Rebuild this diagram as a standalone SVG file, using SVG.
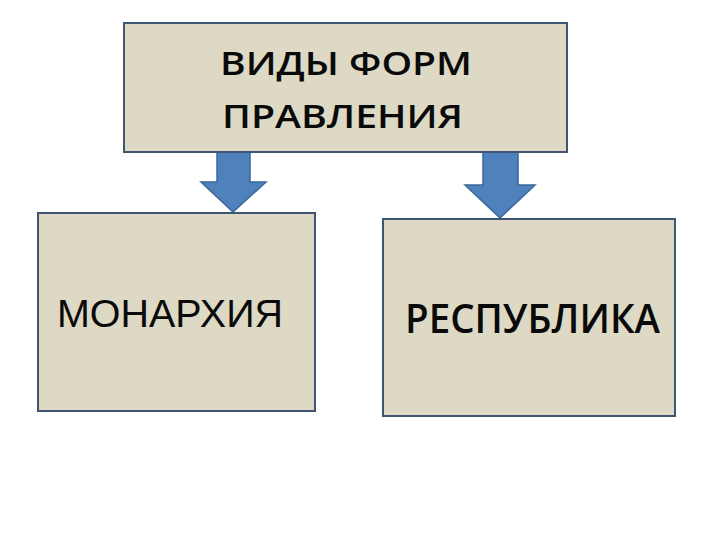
<svg xmlns="http://www.w3.org/2000/svg" width="720" height="540" viewBox="0 0 720 540">
<style>
.box{fill:#DDD9C4;stroke:#3F5574;stroke-width:2}
.arr{fill:#4F81BD;stroke:#3A6798;stroke-width:1.5}
.t{font-family:"Liberation Sans",Arial,sans-serif;fill:#0a0a0a}
.c{font-family:"Open Sans","Liberation Sans",sans-serif;font-weight:600;fill:#0a0a0a}
</style>
<rect width="720" height="540" fill="#ffffff"/>
<g id="connectors">
<polygon class="arr" points="217,152 250,152 250,182 266,182 233,212 201,182 217,182"/>
<polygon class="arr" points="483,152 518,152 518,185 535,185 500,218 465,185 483,185"/>
</g>
<g id="node-top">
<rect class="box" x="124" y="23" width="443" height="129"/>
<text class="c" x="220" y="75" font-size="32" textLength="252" lengthAdjust="spacingAndGlyphs">ВИДЫ ФОРМ</text>
<text class="c" x="222" y="128" font-size="32" textLength="241" lengthAdjust="spacingAndGlyphs">ПРАВЛЕНИЯ</text>
</g>
<g id="node-monarchy">
<rect class="box" x="38" y="213" width="277" height="198"/>
<text class="t" x="57" y="327" font-size="38" textLength="226" lengthAdjust="spacingAndGlyphs">МОНАРХИЯ</text>
</g>
<g id="node-republic">
<rect class="box" x="383" y="219" width="292" height="197"/>
<text class="c" x="405" y="333" font-size="39" textLength="255" lengthAdjust="spacingAndGlyphs">РЕСПУБЛИКА</text>
</g>
</svg>
